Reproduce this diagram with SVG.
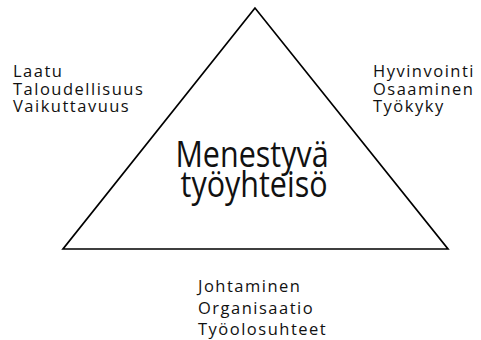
<svg xmlns="http://www.w3.org/2000/svg" width="481" height="340" viewBox="0 0 481 340">
  <style>
    .side { font-family: "Open Sans", "Liberation Sans", sans-serif; font-size: 16.5px; fill: #111; letter-spacing: 1.5px; }
    .core { font-family: "Open Sans", "Liberation Sans", sans-serif; font-size: 30.5px; fill: #111; text-anchor: middle; }
    .edge { fill: none; stroke: #000; stroke-width: 1.7; stroke-linejoin: miter; }
  </style>
  <rect width="481" height="340" fill="#fff"/>

  <!-- triangle outline -->
  <g id="connectors">
    <polygon class="edge" points="255,8 63,249 448,249"/>
  </g>

  <!-- centre label, slightly stretched upright -->
  <g id="node-centre">
    <text class="core" transform="translate(252,167) scale(1,1.2)">Menestyvä</text>
    <text class="core" transform="translate(254,197) scale(1,1.2)">työyhteisö</text>
  </g>

  <!-- left corner list -->
  <g id="node-left">
    <text class="side" x="13" y="77">Laatu</text>
    <text class="side" x="13" y="94.5">Taloudellisuus</text>
    <text class="side" x="13" y="112">Vaikuttavuus</text>
  </g>

  <!-- right corner list -->
  <g id="node-right">
    <text class="side" x="373" y="77">Hyvinvointi</text>
    <text class="side" x="373" y="94.5">Osaaminen</text>
    <text class="side" x="373" y="112">Työkyky</text>
  </g>

  <!-- bottom list -->
  <g id="node-bottom">
    <text class="side" x="198" y="292">Johtaminen</text>
    <text class="side" x="198" y="313.5">Organisaatio</text>
    <text class="side" x="198" y="335">Työolosuhteet</text>
  </g>
</svg>
